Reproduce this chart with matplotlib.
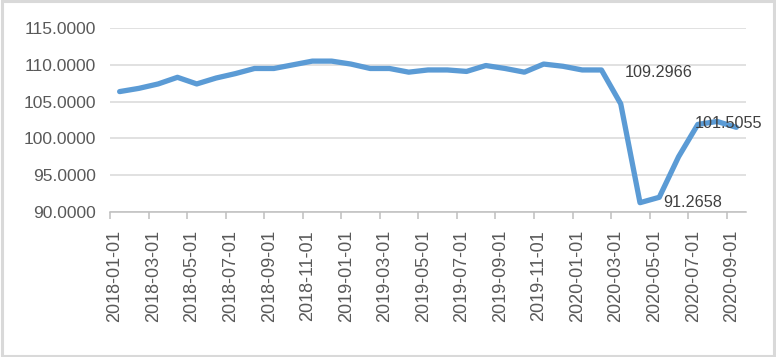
import pandas as pd
import numpy as np
import matplotlib
matplotlib.use('Agg')
import matplotlib.pyplot as plt
from matplotlib.patches import Rectangle

# monthly index values, 2018-01 .. 2020-09
months = pd.date_range('2018-01-01', periods=33, freq='MS').strftime('%Y-%m-%d').tolist()
values = [106.36, 106.8, 107.4, 108.3, 107.4, 108.2, 108.8, 109.5, 109.5, 110.0,
          110.5, 110.5, 110.1, 109.5, 109.5, 109.0, 109.3, 109.3, 109.1, 109.9,
          109.5, 109.0, 110.1, 109.8, 109.3, 109.2966, 104.7, 91.2658, 92.0, 97.5,
          101.9, 102.3, 101.5055]
labelled = [25, 27, 32]
label_offsets = [(17, -1.5), (17, 0), (-30, 3)]

plt.rcParams['font.family'] = ['Liberation Sans', 'DejaVu Sans']

fig = plt.figure(figsize=(7.76, 3.57), dpi=100)
fig.add_artist(Rectangle((0.002, 0.004), 0.996, 0.992, transform=fig.transFigure,
                         fill=False, edgecolor='#D9D9D9', linewidth=2.2))

W, H = 776, 357
ax = fig.add_axes([110 / W, 1 - 212 / H, (746 - 110) / W, (212 - 28) / H])

x = np.arange(len(values))
ax.plot(x, values, color='#5B9BD5', linewidth=3.8, solid_joinstyle='round',
        solid_capstyle='round', zorder=3)

for i, (dx, dy) in zip(labelled, label_offsets):
    ax.annotate(f'{values[i]:.4f}', (x[i], values[i]), xytext=(dx, dy),
                textcoords='offset points', ha='left', va='center',
                fontsize=11.7, color='#404040', zorder=4)

ax.set_xlim(-0.5, len(values) - 0.5)
ax.set_ylim(90, 115)
ax.set_yticks(np.arange(90, 116, 5))
ax.set_yticklabels([f'{v:.4f}' for v in np.arange(90, 116, 5)])
ax.yaxis.grid(True, color='#D9D9D9', linewidth=1.1)
ax.set_axisbelow(True)

# tick marks between months, labels on every second month
ax.set_xticks(np.arange(-0.5, len(values), 2))
ax.set_xticklabels([])
ax.set_xticks(np.arange(0, len(values), 2) - 0.24, minor=True)
ax.set_xticklabels(months[::2], minor=True, rotation=90, fontsize=13, color='#595959')
ax.tick_params(axis='x', which='major', length=5, width=1.1, color='#BFBFBF', direction='out')
ax.tick_params(axis='x', which='minor', length=0, pad=13)
ax.tick_params(axis='y', length=0, pad=10, labelsize=12.5, labelcolor='#595959')

for side in ['top', 'right', 'left']:
    ax.spines[side].set_visible(False)
ax.spines['bottom'].set_color('#BFBFBF')
ax.spines['bottom'].set_linewidth(1.1)

fig.savefig('out.png', dpi=100)
